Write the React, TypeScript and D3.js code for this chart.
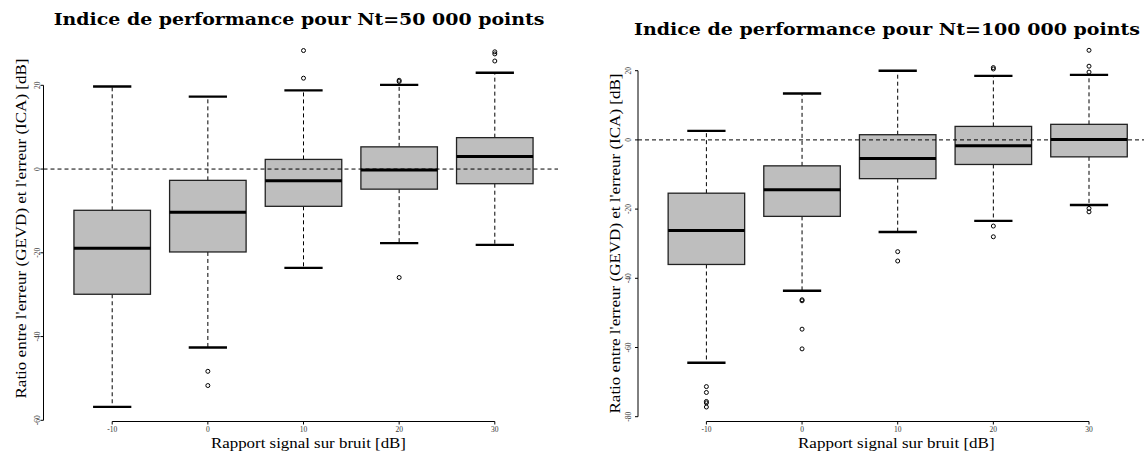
import React from "react";
import * as d3 from "d3";

// ---------- data ----------
const snrLevels = [-10, 0, 10, 20, 30];
const xTickLabels = ["-10", "0", "10", "20", "30"];
const yTicksLeft = [20, 0, -20, -40, -60];
const yTicksRight = [20, 0, -20, -40, -60, -80];

const titleLeft = "Indice de performance pour Nt=50 000 points";
const titleRight = "Indice de performance pour Nt=100 000 points";
const xAxisTitle = "Rapport signal sur bruit [dB]";
const yAxisTitle = "Ratio entre l'erreur (GEVD) et l'erreur (ICA) [dB]";

// Nt = 50 000
const lowerWhisker50k = [-56.8, -42.6, -23.6, -17.7, -18.1];
const q1_50k = [-29.9, -19.8, -8.9, -4.8, -3.5];
const median50k = [-18.9, -10.3, -2.8, -0.2, 3.0];
const q3_50k = [-9.85, -2.7, 2.3, 5.3, 7.5];
const upperWhisker50k = [19.7, 17.3, 18.8, 20.1, 23.0];
const outliers50k = [[], [-48.3, -51.7], [28.3, 21.7], [21.2, 20.9, -25.9], [28.0, 27.5, 25.8]];

// Nt = 100 000
const lowerWhisker100k = [-64.4, -43.6, -26.6, -23.4, -18.8];
const q1_100k = [-36.0, -22.1, -11.2, -7.1, -4.9];
const median100k = [-26.2, -14.4, -5.4, -1.7, 0.1];
const q3_100k = [-15.4, -7.5, 1.5, 3.9, 4.5];
const upperWhisker100k = [2.6, 13.4, 20.0, 18.5, 18.8];
const outliers100k = [
  [-71.3, -73.0, -75.6, -76.0, -77.2],
  [-46.2, -46.5, -54.7, -60.4],
  [-32.3, -35.0],
  [20.9, 20.5, -24.9, -28.0],
  [25.9, 21.3, 19.6, -19.8, -20.8],
];

const FONT = "'Liberation Serif', 'DejaVu Serif', serif";
const TITLE_FONT = "'DejaVu Serif', 'Liberation Serif', serif";

type PanelProps = {
  title: string;
  lower: number[];
  q1: number[];
  med: number[];
  q3: number[];
  upper: number[];
  outliers: number[][];
  yTicks: number[];
  yDomain: [number, number];
  yRange: [number, number];
  xRange: [number, number];
  regionLeft: number;
  regionRight: number;
  axisY: number;
  titleX: [number, number];
  titleBaseline: number;
  xLabelX: [number, number];
  yLabelBaselineX: number;
  yLabelCenter: number;
  yTickLabelX: number;
};

function Panel(p: PanelProps) {
  const x = d3.scaleLinear().domain([-10, 30]).range(p.xRange);
  const y = d3.scaleLinear().domain(p.yDomain).range(p.yRange);
  const halfBox = 4;
  const halfCap = 2;
  const dash = "4,3";
  const yTop = d3.max(p.yTicks)!;
  const yBot = d3.min(p.yTicks)!;
  return (
    <g>
      {/* boxes */}
      {snrLevels.map((s, i) => (
        <g key={s}>
          <line x1={x(s)} x2={x(s)} y1={y(p.q3[i])} y2={y(p.upper[i])} stroke="#000" strokeWidth={1} strokeDasharray={dash} />
          <line x1={x(s)} x2={x(s)} y1={y(p.q1[i])} y2={y(p.lower[i])} stroke="#000" strokeWidth={1} strokeDasharray={dash} />
          <line x1={x(s - halfCap)} x2={x(s + halfCap)} y1={y(p.upper[i])} y2={y(p.upper[i])} stroke="#000" strokeWidth={2.4} />
          <line x1={x(s - halfCap)} x2={x(s + halfCap)} y1={y(p.lower[i])} y2={y(p.lower[i])} stroke="#000" strokeWidth={2.4} />
          <rect
            x={x(s - halfBox)}
            y={y(p.q3[i])}
            width={x(s + halfBox) - x(s - halfBox)}
            height={y(p.q1[i]) - y(p.q3[i])}
            fill="#bebebe"
            stroke="#222"
            strokeWidth={1.3}
          />
          <line x1={x(s - halfBox)} x2={x(s + halfBox)} y1={y(p.med[i])} y2={y(p.med[i])} stroke="#000" strokeWidth={3} />
          {p.outliers[i].map((o, j) => (
            <circle key={j} cx={x(s)} cy={y(o)} r={2} fill="none" stroke="#000" strokeWidth={1} />
          ))}
        </g>
      ))}
      {/* zero reference line */}
      <line x1={p.regionLeft} x2={p.regionRight} y1={y(0)} y2={y(0)} stroke="#000" strokeWidth={1} strokeDasharray={dash} />
      {/* y axis */}
      <line x1={p.regionLeft} x2={p.regionLeft} y1={y(yTop)} y2={y(yBot)} stroke="#000" strokeWidth={1} />
      {p.yTicks.map((t) => (
        <g key={t}>
          <line x1={p.regionLeft - 3} x2={p.regionLeft} y1={y(t)} y2={y(t)} stroke="#000" strokeWidth={1} />
          <text
            transform={`translate(${p.yTickLabelX},${y(t)}) rotate(-90)`}
            textAnchor="middle"
            fontFamily={FONT}
            fontSize={7.5}
            fill="#333"
          >
            {String(t)}
          </text>
        </g>
      ))}
      {/* x axis */}
      <line x1={x(-10)} x2={x(30)} y1={p.axisY} y2={p.axisY} stroke="#000" strokeWidth={1} />
      {snrLevels.map((s, i) => (
        <g key={s}>
          <line x1={x(s)} x2={x(s)} y1={p.axisY} y2={p.axisY + 3} stroke="#000" strokeWidth={1} />
          <text x={x(s)} y={432.3} textAnchor="middle" fontFamily={FONT} fontSize={7.5} fill="#333">
            {xTickLabels[i]}
          </text>
        </g>
      ))}
      {/* titles */}
      <text
        x={p.titleX[0]}
        y={p.titleBaseline}
        textLength={p.titleX[1] - p.titleX[0]}
        lengthAdjust="spacingAndGlyphs"
        fontFamily={TITLE_FONT}
        fontWeight="bold"
        fontSize={17.5}
        fill="#000"
      >
        {p.title}
      </text>
      <text
        x={p.xLabelX[0]}
        y={448}
        textLength={p.xLabelX[1] - p.xLabelX[0]}
        lengthAdjust="spacingAndGlyphs"
        fontFamily={FONT}
        fontSize={15}
        fill="#000"
      >
        {xAxisTitle}
      </text>
      <text
        transform={`translate(${p.yLabelBaselineX},${p.yLabelCenter + 170}) rotate(-90)`}
        textLength={340}
        lengthAdjust="spacingAndGlyphs"
        fontFamily={FONT}
        fontSize={15.5}
        fill="#000"
      >
        {yAxisTitle}
      </text>
    </g>
  );
}

export default function App() {
  return (
    <svg
      width={1144}
      height={452}
      viewBox="0 0 1144 452"
      style={{ position: "absolute", left: 0, top: 0, background: "#fff" }}
    >
      <rect width={1144} height={452} fill="#fff" />
      <Panel
        title={titleLeft}
        lower={lowerWhisker50k}
        q1={q1_50k}
        med={median50k}
        q3={q3_50k}
        upper={upperWhisker50k}
        outliers={outliers50k}
        yTicks={yTicksLeft}
        yDomain={[-60, 20]}
        yRange={[420.3, 85.3]}
        xRange={[112.2, 494.8]}
        regionLeft={43.5}
        regionRight={558}
        axisY={421.5}
        titleX={[53.7, 544.4]}
        titleBaseline={25}
        xLabelX={[211, 406]}
        yLabelBaselineX={26}
        yLabelCenter={228.5}
        yTickLabelX={40}
      />
      <Panel
        title={titleRight}
        lower={lowerWhisker100k}
        q1={q1_100k}
        med={median100k}
        q3={q3_100k}
        upper={upperWhisker100k}
        outliers={outliers100k}
        yTicks={yTicksRight}
        yDomain={[-80, 20]}
        yRange={[416.7, 70.7]}
        xRange={[706.4, 1089]}
        regionLeft={638}
        regionRight={1144}
        axisY={421.5}
        titleX={[634, 1140]}
        titleBaseline={35}
        xLabelX={[798, 994.6]}
        yLabelBaselineX={619.6}
        yLabelCenter={243.5}
        yTickLabelX={631}
      />
    </svg>
  );
}
